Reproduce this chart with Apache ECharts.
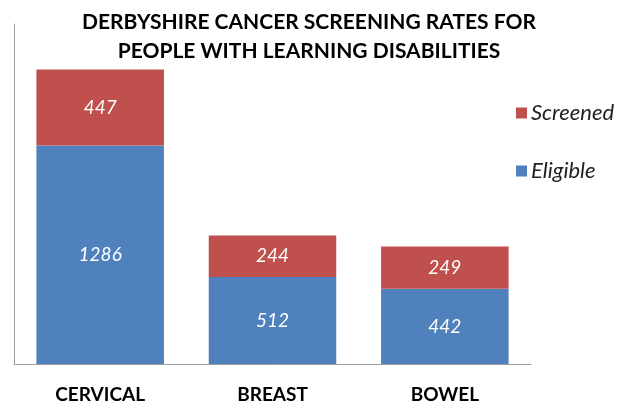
<!DOCTYPE html>
<html><head><meta charset="utf-8">
<script src="https://cdn.jsdelivr.net/npm/echarts@6/dist/echarts.min.js"></script>
<style>html,body{margin:0;padding:0;background:#fff}#c{width:617px;height:406px}</style>
</head><body><div id="c"></div>
<script>
var categories = ['CERVICAL', 'BREAST', 'BOWEL'];
var eligible = [1286, 512, 442];
var screened = [447, 244, 249];
var titleLines = ['DERBYSHIRE CANCER SCREENING RATES FOR', 'PEOPLE WITH LEARNING DISABILITIES'];

var chart = echarts.init(document.getElementById('c'));
var lbl = {show: true, position: 'inside', color: '#fff', fontStyle: 'italic', fontSize: 19, fontFamily: 'Lato'};
chart.setOption({
  animation: false,
  title: {
    text: titleLines.join('\n'), left: 304, top: 3, textAlign: 'center',
    textStyle: {fontFamily: 'Lato', fontWeight: 'bold', fontSize: 21, color: '#000', lineHeight: 29}
  },
  legend: {
    orient: 'vertical', left: 511, top: 97, itemGap: 36, itemWidth: 11, itemHeight: 11,
    icon: 'rect',
    data: ['Screened', 'Eligible'],
    textStyle: {fontFamily: 'Lato', fontStyle: 'italic', fontSize: 22, color: '#222', padding: [0, 0, 0, -1]}
  },
  grid: {left: 14, right: 86, top: 24, bottom: 42},
  xAxis: {
    type: 'category', data: categories,
    axisLine: {lineStyle: {color: '#a0a0a0'}},
    axisTick: {length: 8, lineStyle: {color: '#a0a0a0'}},
    axisLabel: {fontFamily: 'Lato', fontWeight: 'bold', fontSize: 19, color: '#000', margin: 21}
  },
  yAxis: {
    type: 'value', min: 0, max: 2000,
    axisLine: {show: true, lineStyle: {color: '#a0a0a0'}},
    axisTick: {show: false}, axisLabel: {show: false}, splitLine: {show: false}
  },
  series: [
    {name: 'Eligible', type: 'bar', stack: 's', data: eligible, barWidth: '74%',
     itemStyle: {color: '#4F81BD'}, label: lbl},
    {name: 'Screened', type: 'bar', stack: 's', data: screened,
     itemStyle: {color: '#C0504D'}, label: lbl}
  ]
});
</script></body></html>
